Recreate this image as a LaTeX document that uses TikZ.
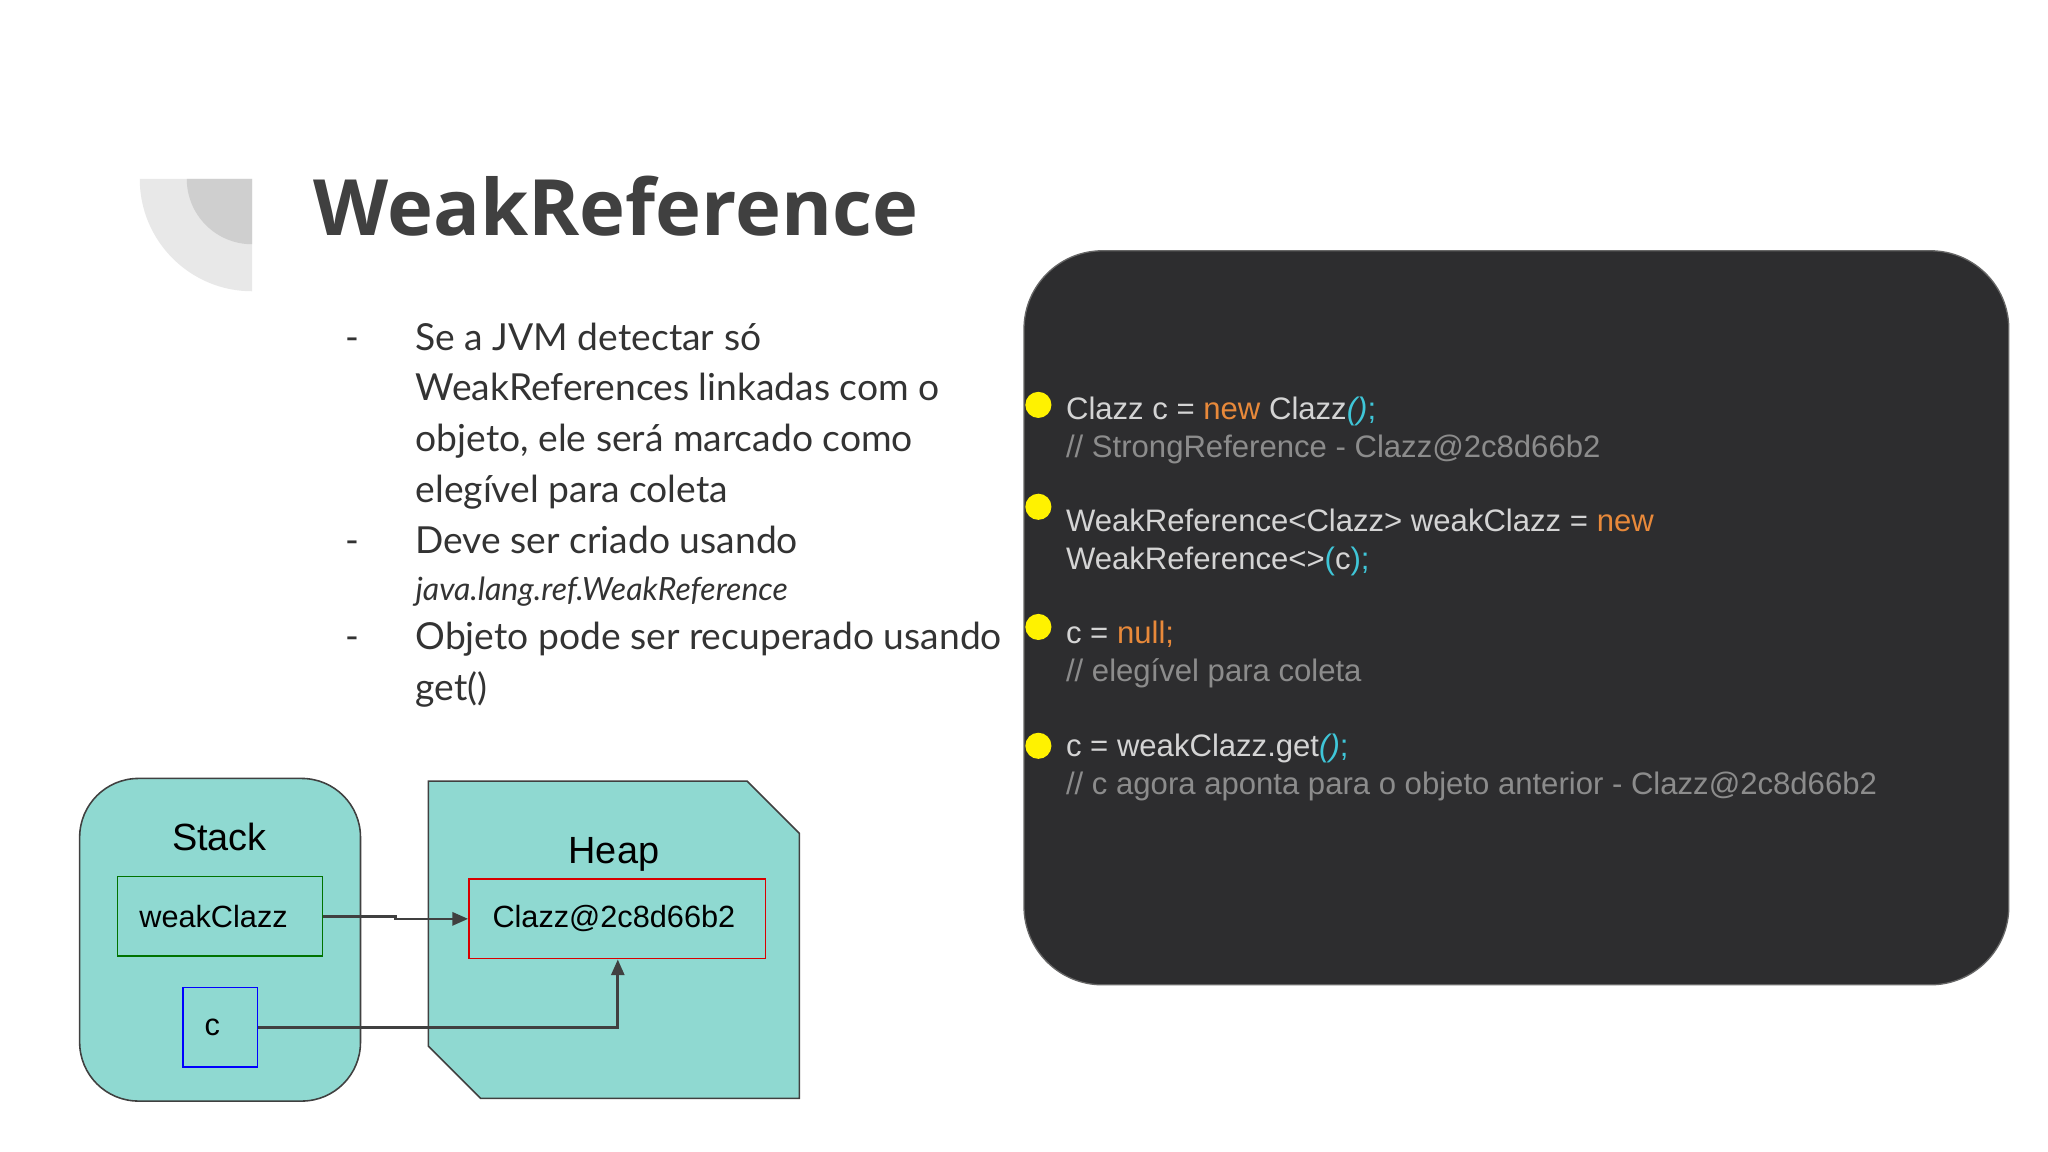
\documentclass[tikz,border=0pt]{standalone}
\usepackage{fontspec}
\setmainfont{Lato}
\newfontfamily\arialf{Liberation Sans}
\newfontfamily\titlef{Open Sans}
\usetikzlibrary{arrows.meta}
\definecolor{teal}{HTML}{8FD9D1}
\definecolor{codebg}{HTML}{2D2D2F}
\definecolor{codefg}{HTML}{D4D4D4}
\definecolor{codeor}{HTML}{E8893A}
\definecolor{codecy}{HTML}{3FC6D8}
\definecolor{codecm}{HTML}{8C8C8C}
\begin{document}
\begin{tikzpicture}[x=1pt,y=-1pt,
  bul/.style={anchor=base west,inner sep=0,font=\fontsize{28.5}{30}\selectfont,text=black!80},
  cod/.style={anchor=base west,inner sep=0,font=\arialf\fontsize{23.8}{26}\selectfont,text=codefg},
  dot/.style={circle,fill=yellow,minimum size=20pt,inner sep=0},
  dlab/.style={font=\arialf\fontsize{29}{32}\selectfont},
  box/.style={draw,line width=1.2pt,font=\arialf\fontsize{23.5}{26}\selectfont,inner sep=0},
  conn/.style={draw=black!75,line width=2pt,-{Triangle[length=12pt,width=10pt]}}]
\useasboundingbox (0,0) rectangle (1568,882);
\fill[white] (0,0) rectangle (1568,882);
% decoration
\fill[black!9] (193,137) -- (107,137) arc[start angle=180,end angle=90,radius=86] -- cycle;
\fill[black!19] (193,137) -- (143,137) arc[start angle=180,end angle=90,radius=50] -- cycle;
\node[anchor=base west,inner sep=0,font=\titlef\bfseries\fontsize{59.5}{66}\selectfont,text=black!75] (title) at (240,180) {WeakReference};
% bullets
\node[bul] (d1) at (264,268) {-};
\node[bul] (b1) at (318,268) {Se a JVM detectar só};
\node[bul] (b2) at (318,307) {WeakReferences linkadas com o};
\node[bul] (b3) at (318,346) {objeto, ele será marcado como};
\node[bul] (b4) at (318,385) {elegível para coleta};
\node[bul] (d2) at (264,424) {-};
\node[bul] (b5) at (318,424) {Deve ser criado usando};
\node[bul,font=\itshape\fontsize{24.5}{26}\selectfont] (b6) at (318,460) {java.lang.ref.WeakReference};
\node[bul] (d3) at (264,497) {-};
\node[bul] (b7) at (318,497) {Objeto pode ser recuperado usando};
\node[bul] (b8) at (318,536) {get()};
% code box
\draw[fill=codebg,draw=black!60,line width=1pt,rounded corners=60pt] (784,192) rectangle (1538,754);
\node[dot] (y1) at (795,310) {};
\node[dot] (y2) at (795,388) {};
\node[dot] (y3) at (795,480) {};
\node[dot] (y4) at (795,571) {};
\node[cod] (c1) at (816,321) {Clazz c = \textcolor{codeor}{new} Clazz\textcolor{codecy}{\textit{()};}};
\node[cod,text=codecm] (c2) at (816,350) {// StrongReference - Clazz@2c8d66b2};
\node[cod] (c3) at (816,407) {WeakReference<Clazz> weakClazz = \textcolor{codeor}{new}};
\node[cod] (c4) at (816,436) {WeakReference<>\textcolor{codecy}{(}c\textcolor{codecy}{);}};
\node[cod] (c5) at (816,493) {c = \textcolor{codeor}{null;}};
\node[cod,text=codecm] (c6) at (816,522) {// elegível para coleta};
\node[cod] (c7) at (816,579) {c = weakClazz.get\textcolor{codecy}{\textit{()};}};
\node[cod,text=codecm] (c8) at (816,608) {// c agora aponta para o objeto anterior - Clazz@2c8d66b2};
% diagram
\draw[fill=teal,draw=black!75,line width=1.2pt,rounded corners=45pt] (61,596) rectangle (276,843);
\draw[fill=teal,draw=black!75,line width=1.2pt] (328,598) -- (572,598) -- (612,638) -- (612,841) -- (368,841) -- (328,801) -- cycle;
\node[dlab] (stack) at (168,641) {Stack};
\node[dlab] (heap) at (470,654) {Heap};
\node[box,draw=green!45!black,minimum width=157pt,minimum height=61pt] (wc) at (168.5,701.5) {\hspace*{-10pt}weakClazz};
\node[box,draw=blue,minimum width=57pt,minimum height=61pt] (cv) at (168.5,786.5) {\hspace*{-12pt}c};
\node[box,draw=red!85!black,minimum width=227pt,minimum height=61pt] (obj) at (472.5,703.5) {\hspace*{-5pt}Clazz@2c8d66b2};
\draw[conn] (wc.east) -- (303,701.5) -- (303,703.5) -- (obj.west);
\draw[conn] (cv.east) -| (obj.south -| 473,0);
\end{tikzpicture}
\end{document}
